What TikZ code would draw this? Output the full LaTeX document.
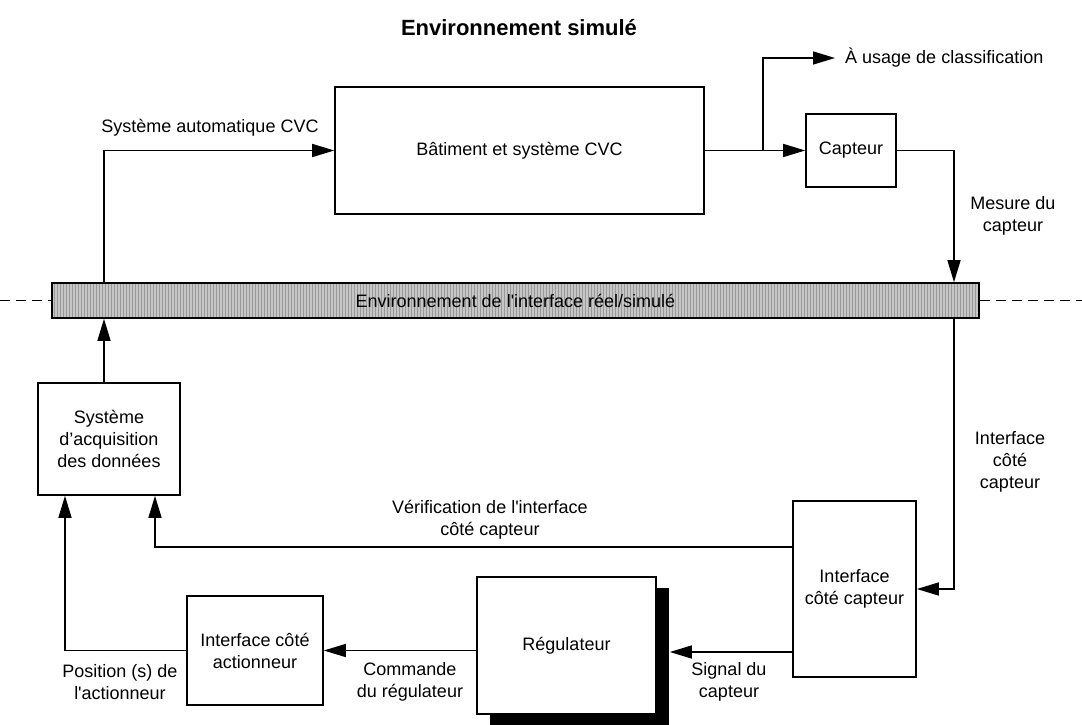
\documentclass[tikz,border=0pt]{standalone}
\usepackage{fontspec}
\setmainfont{Liberation Sans}
\usetikzlibrary{arrows.meta,shadows,patterns}

\begin{document}
\begin{tikzpicture}[x=1pt,y=-1pt,
	every node/.style={font=\fontsize{18}{22}\selectfont, align=center},
	blk/.style={draw, line width=1.6pt, inner sep=0pt},
	arr/.style={line width=1.5pt, -{Triangle[length=22pt,width=13pt]}},
	lbl/.style={inner sep=0pt}]
	\useasboundingbox (0,0) rectangle (1082,725);
	\node[font=\fontsize{22}{26}\selectfont\bfseries] (title) at (519,28) {Environnement simulé};
	\node[blk, minimum width=369pt, minimum height=127pt] (bat) at (519.5,150.5) {Bâtiment et système CVC};
	\node[blk, minimum width=90pt, minimum height=73pt] (cap) at (851,150.5) {Capteur};
	\node[blk, minimum width=927pt, minimum height=35pt, preaction={fill=gray!45}, pattern=vertical lines, pattern color=gray!80] (bar) at (515.5,300.5) {};
	\node at (bar) {Environnement de l\textquotesingle interface réel/simulé};
	\node[blk, minimum width=142pt, minimum height=112pt] (acq) at (109,439) {Système\\d’acquisition\\des données};
	\node[blk, minimum width=123pt, minimum height=176pt] (ifc) at (854.5,589) {Interface\\côté capteur};
	\node[blk, fill=white, minimum width=179pt, minimum height=137pt, drop shadow={shadow xshift=13pt, shadow yshift=-11pt, fill=black, opacity=1}] (reg) at (566.5,645.5) {Régulateur};
	\node[blk, minimum width=136pt, minimum height=109pt] (ifa) at (255,650.5) {Interface côté\\actionneur};
	\node[lbl, anchor=west] (cls) at (845,58) {À usage de classification};

	\coordinate (colL) at (104,0);
	\coordinate (colR) at (954,0);
	\coordinate (colV) at (155,0);
	\coordinate (colP) at (65,0);
	\coordinate (br) at (763,150.5);

	\draw[dash pattern=on 10pt off 6pt, line width=1.6pt] (0,300.5) -- (bar.west);
	\draw[dash pattern=on 10pt off 6pt, line width=1.6pt] (bar.east) -- (1082,300.5);

	\draw[arr] (colL |- bar.north) |- (bat.west);
	\draw[arr] (colL |- acq.north) -- (colL |- bar.south);
	\draw[arr] (bat.east) -- (cap.west);
	\draw[arr] (br) |- ([xshift=-10pt]cls.west);
	\draw[arr] (cap.east) -| (colR |- bar.north);
	\draw[arr] (colR |- bar.south) |- (ifc.east);
	\draw[arr] ([yshift=42pt]ifc.west) -| (colV |- acq.south);
	\coordinate (sig) at ([yshift=-63pt]ifc.west);
	\path (sig -| reg.east) coordinate (sigE);
	\draw[arr] (sig) -- ([xshift=13pt]sigE);
	\draw[arr] (reg.west |- ifa.east) -- (ifa.east);
	\draw[arr] (ifa.west) -| (colP |- acq.south);

	\node[lbl] (l1) at (210,128) {Système automatique CVC};
	\node[lbl] (l2) at (1013,216) {Mesure du\\capteur};
	\node[lbl] (l3) at (1010,462) {Interface\\côté\\capteur};
	\node[lbl] (l4) at (490,520) {Vérification de l\textquotesingle interface\\côté capteur};
	\node[lbl] (l5) at (729,682) {Signal du\\capteur};
	\node[lbl] (l6) at (410,682) {Commande\\du régulateur};
	\node[lbl] (l7) at (120,682) {Position (s) de\\l\textquotesingle actionneur};
\end{tikzpicture}
\end{document}
